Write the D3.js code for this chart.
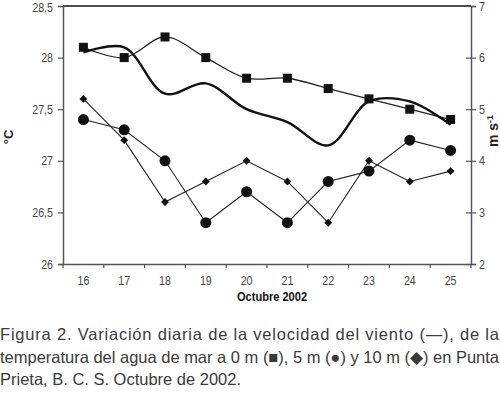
<!DOCTYPE html>
<html>
<head>
<meta charset="utf-8">
<script src="https://cdn.jsdelivr.net/npm/d3@7"></script>
<style>
  body { margin: 0; background: #fff; }
  svg { display: block; }
  text { font-family: "Liberation Sans", Arial, sans-serif; }
</style>
</head>
<body>
<div id="chart"></div>
<script>
// days of October 2002
const days = [16, 17, 18, 19, 20, 21, 22, 23, 24, 25];
// water temperature (°C)
const temp0m  = [28.1, 28.0, 28.2, 28.0, 27.8, 27.8, 27.7, 27.6, 27.5, 27.4];
const temp5m  = [27.4, 27.3, 27.0, 26.4, 26.7, 26.4, 26.8, 26.9, 27.2, 27.1];
const temp10m = [27.6, 27.2, 26.6, 26.8, 27.0, 26.8, 26.4, 27.0, 26.8, 26.9];
// wind speed (m s-1)
const wind = [6.1, 6.2, 5.3, 5.5, 5.0, 4.75, 4.3, 5.15, 5.15, 4.7];

const leftTicks = [26, 26.5, 27, 27.5, 28, 28.5];
const rightTicks = [2, 3, 4, 5, 6, 7];
const captionLines = [
  "Figura 2. Variación diaria de la velocidad del viento (\u2014), de la",
  "temperatura del agua de mar a 0 m (\u25A0), 5 m (\u25CF) y 10 m (\u25C6) en Punta",
  "Prieta, B. C. S. Octubre de 2002."
];

const W = 500, H = 393;
const margin = {top: 6, right: 29, bottom: 129, left: 63};
const width = W - margin.left - margin.right,
      height = H - margin.top - margin.bottom;

// squeeze glyphs horizontally, the original uses a condensed face
function condense(sel, k) {
  sel.each(function() {
    const len = this.getComputedTextLength();
    d3.select(this).attr("textLength", len * k).attr("lengthAdjust", "spacingAndGlyphs");
  });
}

const svg = d3.select("#chart")
  .append("svg")
    .attr("width", W)
    .attr("height", H);

const g = svg.append("g")
    .attr("transform", `translate(${margin.left},${margin.top})`);

const x = d3.scaleBand()
  .domain(days)
  .range([0, width]);

const yL = d3.scaleLinear().domain([26, 28.5]).range([height, 0]);
const yR = d3.scaleLinear().domain([2, 7]).range([height, 0]);

const fmt = d => String(d).replace(".", ",");
const axisColor = "#555";
const cx = d => x(d) + x.bandwidth() / 2;

// top border
g.append("line")
  .attr("x1", 0).attr("x2", width)
  .attr("y1", 0).attr("y2", 0)
  .attr("stroke", "#111").attr("stroke-width", 1.3);

// left axis
const axL = g.append("g")
  .call(d3.axisLeft(yL).tickValues(leftTicks).tickFormat(fmt).tickSize(5).tickPadding(6));
// right axis
const axR = g.append("g")
  .attr("transform", `translate(${width},0)`)
  .call(d3.axisRight(yR).tickValues(rightTicks).tickFormat(d3.format("d")).tickSize(5).tickPadding(3));
axR.selectAll(".tick line").attr("x1", -5);
// bottom axis: ticks on band edges
const axB = g.append("g")
  .attr("transform", `translate(0,${height})`)
  .call(d3.axisBottom(x).tickSize(0).tickPadding(12));
axB.selectAll(".tick")
  .append("line")
  .attr("x1", -x.bandwidth() / 2).attr("x2", -x.bandwidth() / 2)
  .attr("y1", 0).attr("y2", 4);
axB.append("line")
  .attr("x1", width).attr("x2", width).attr("y1", 0).attr("y2", 4);

[axL, axR, axB].forEach(a => {
  a.selectAll(".domain").attr("stroke", axisColor).attr("stroke-width", 1.5);
  a.selectAll("line").attr("stroke", axisColor).attr("stroke-width", 1.2);
  a.selectAll("text")
    .attr("fill", "#444")
    .attr("font-family", null)
    .style("font-size", "13px");
  condense(a.selectAll("text"), 0.82);
});
axR.selectAll(".tick text").attr("x", 8);
axL.selectAll(".tick text").attr("x", -10);
axL.selectAll(".tick").filter(d => d === 28.5).select("text").attr("dy", "0.45em");

// series lines
const lineSmooth = (yScale) => d3.line()
  .x((d, i) => cx(days[i]))
  .y(d => yScale(d))
  .curve(d3.curveCatmullRom.alpha(0.5));
const lineStraight = d3.line()
  .x((d, i) => cx(days[i]))
  .y(d => yL(d));

g.append("path").datum(temp10m)
  .attr("d", lineStraight)
  .attr("fill", "none").attr("stroke", "#222").attr("stroke-width", 1.1);
g.append("path").datum(temp5m)
  .attr("d", lineStraight)
  .attr("fill", "none").attr("stroke", "#222").attr("stroke-width", 1.1);
g.append("path").datum(temp0m)
  .attr("d", lineSmooth(yL))
  .attr("fill", "none").attr("stroke", "#222").attr("stroke-width", 1.3);
g.append("path").datum(wind)
  .attr("d", lineSmooth(yR))
  .attr("fill", "none").attr("stroke", "#111").attr("stroke-width", 2.4);

// markers
g.selectAll(".sq").data(temp0m).join("rect")
  .attr("x", (d, i) => cx(days[i]) - 4.5)
  .attr("y", d => yL(d) - 4.5)
  .attr("width", 9).attr("height", 9)
  .attr("fill", "#111");
g.selectAll(".ci").data(temp5m).join("circle")
  .attr("cx", (d, i) => cx(days[i]))
  .attr("cy", d => yL(d))
  .attr("r", 5.5)
  .attr("fill", "#111");
g.selectAll(".di").data(temp10m).join("path")
  .attr("d", d3.symbol(d3.symbolDiamond2, 40))
  .attr("transform", (d, i) => `translate(${cx(days[i])},${yL(d)})`)
  .attr("fill", "#111");

// axis titles
svg.append("text")
  .attr("transform", "translate(13,137) rotate(-90)")
  .attr("text-anchor", "middle")
  .attr("fill", "#222")
  .style("font-size", "13px").style("font-weight", "bold")
  .text("\u00B0C");
const rt = svg.append("text")
  .attr("transform", "translate(498,131) rotate(-90)")
  .attr("text-anchor", "middle")
  .attr("fill", "#222")
  .style("font-size", "14px").style("font-weight", "bold");
rt.append("tspan").text("m s");
rt.append("tspan").attr("dy", -5).style("font-size", "9px").text("-1");
const xt = svg.append("text")
  .attr("x", 272).attr("y", 301)
  .attr("text-anchor", "middle")
  .attr("fill", "#111")
  .style("font-size", "13.5px").style("font-weight", "bold")
  .text("Octubre 2002");
condense(xt, 0.82);

// caption
const cap = svg.append("g");
captionLines.forEach((t, i) => {
  const tx = cap.append("text")
    .attr("x", 0).attr("y", 340 + i * 22.5)
    .attr("fill", "#3a3a3a")
    .style("font-size", "16.5px")
    .text(t);
  tx.attr("textLength", i < 2 ? 499 : 241)
    .attr("lengthAdjust", i < 2 ? "spacing" : "spacingAndGlyphs");
});
</script>
</body>
</html>
